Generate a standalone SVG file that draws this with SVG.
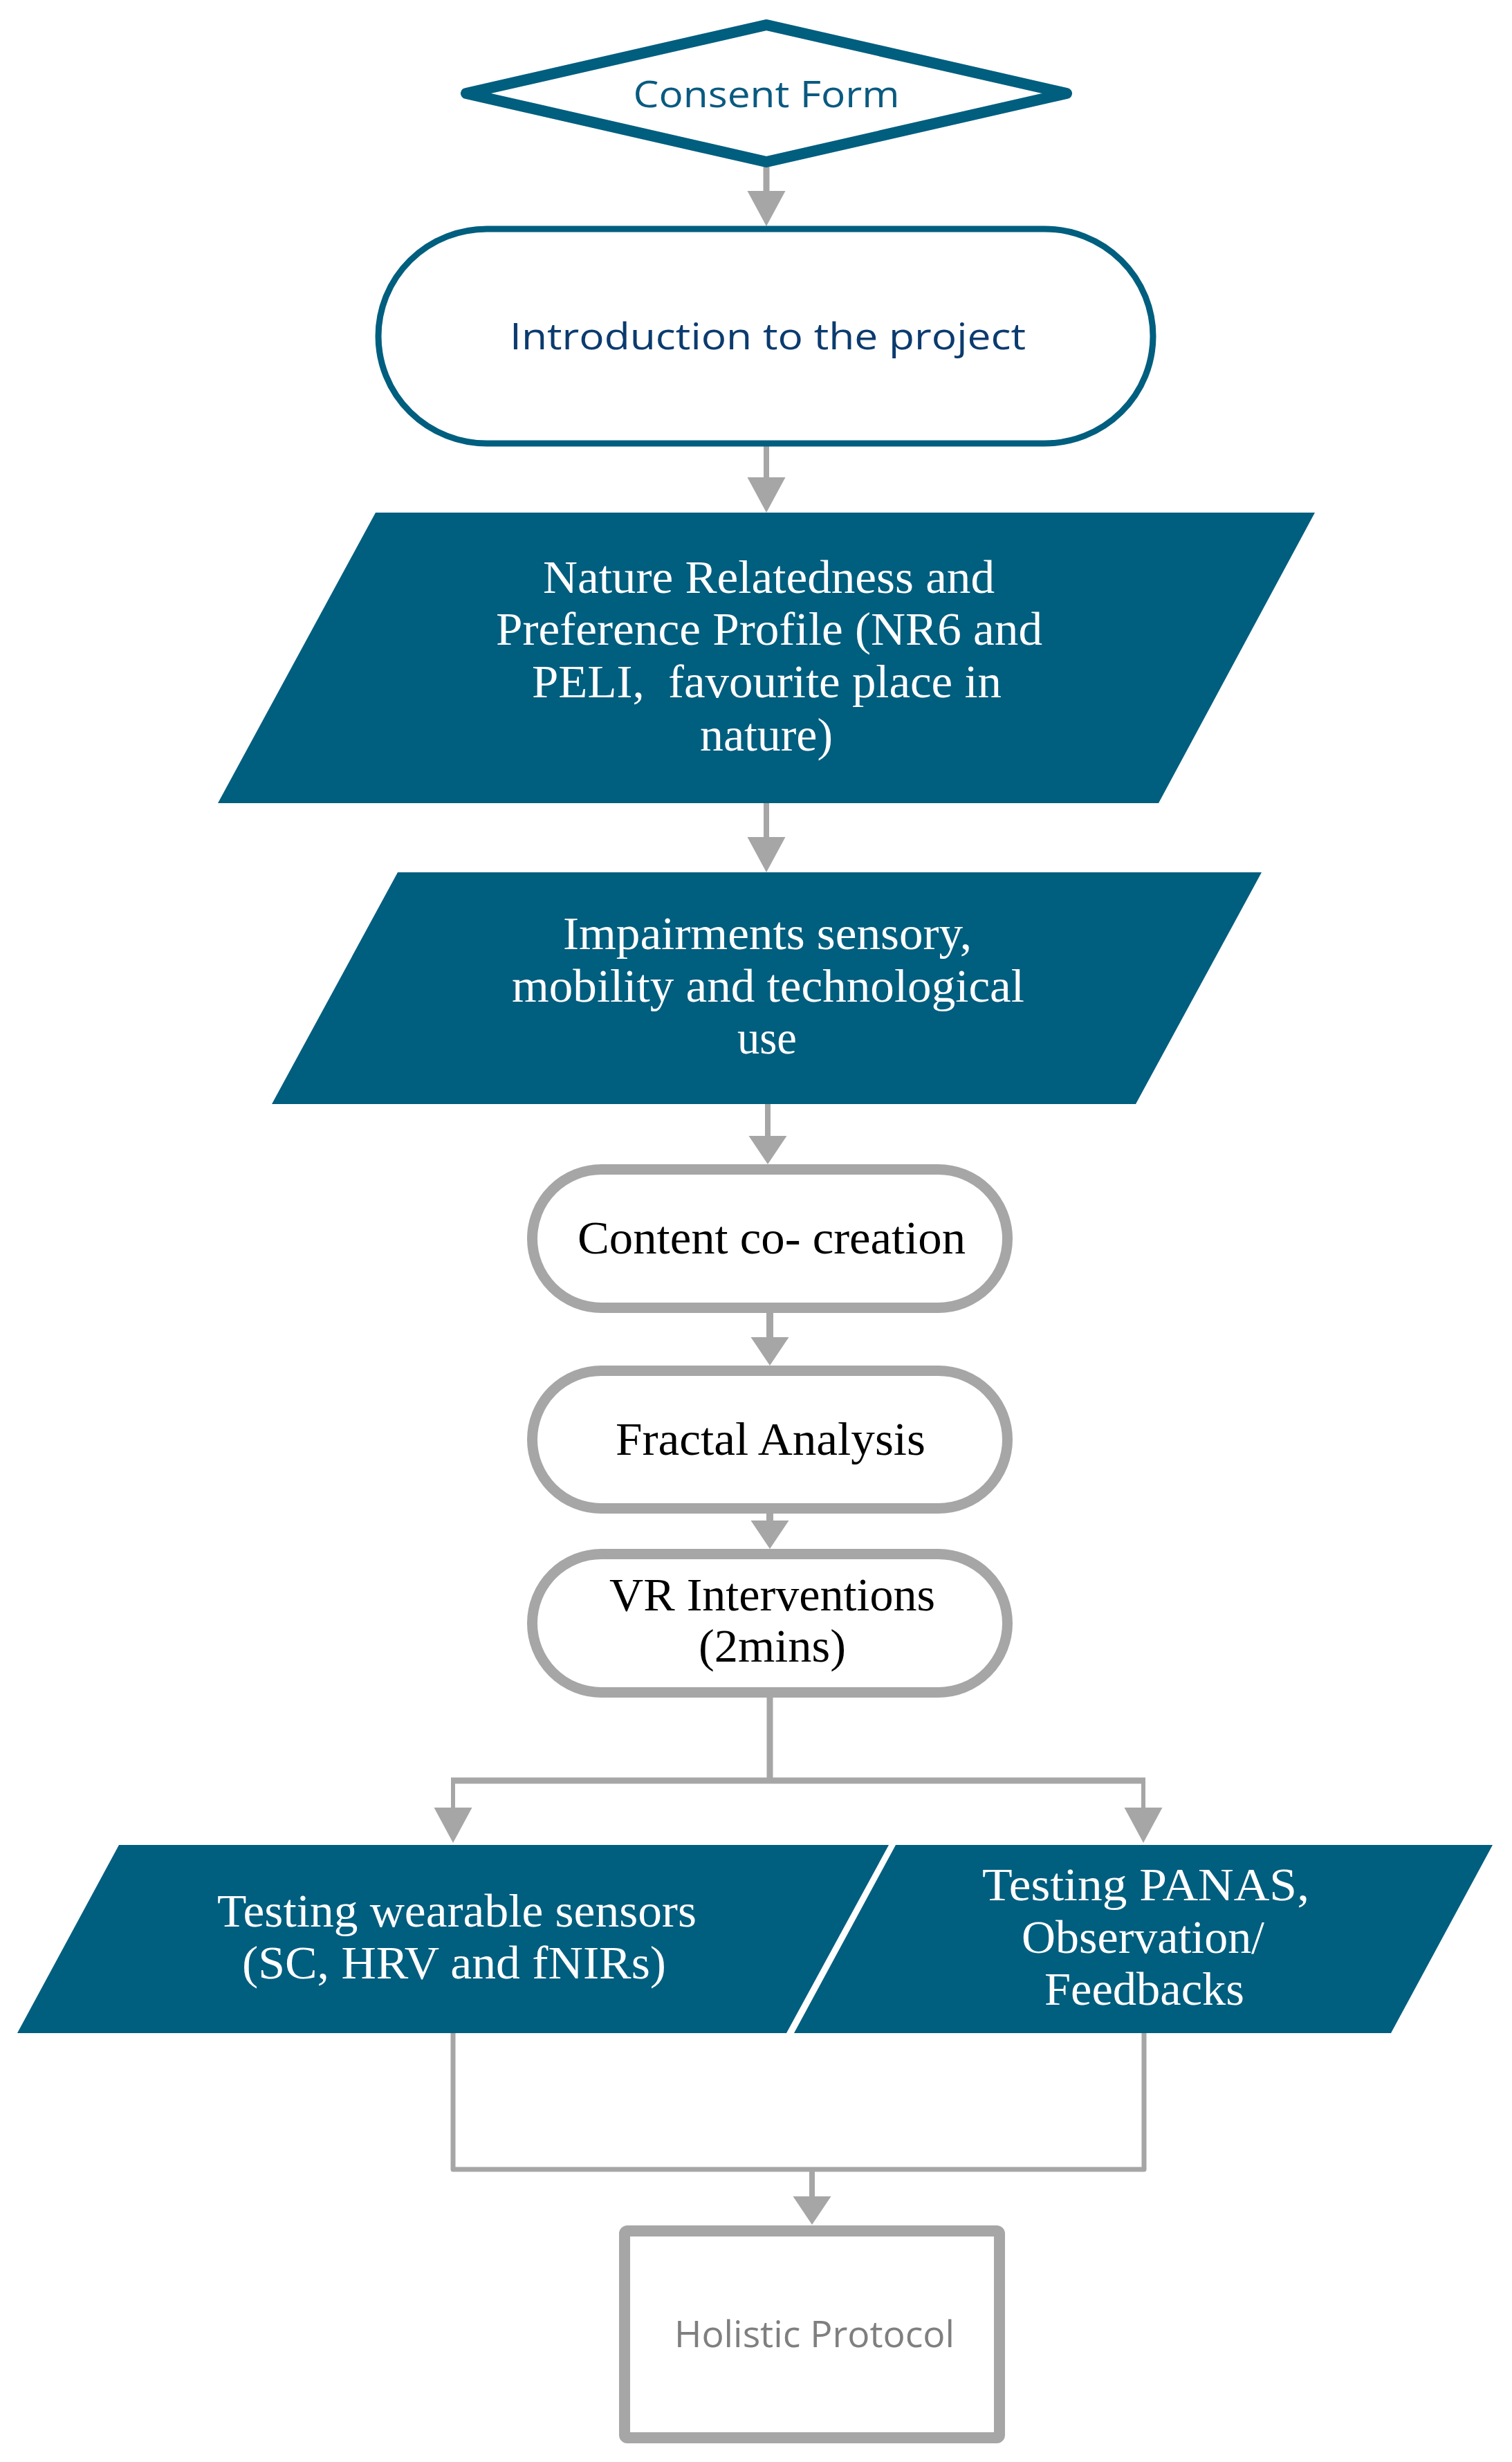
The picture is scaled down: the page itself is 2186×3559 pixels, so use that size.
<svg xmlns="http://www.w3.org/2000/svg" width="2186" height="3559" viewBox="0 0 2186 3559">
<style>
.blue{fill:#005e7f}
.bstroke{fill:#fff;stroke:#005e7f}
.gbox{fill:#fff;stroke:#a6a6a6;stroke-width:15}
.conn{fill:none;stroke:#a6a6a6;stroke-linecap:butt}
.sans{font-family:"Open Sans","Noto Sans",sans-serif;font-size:53px}
.serif{font-family:"Liberation Serif","Times New Roman",serif;font-size:68px;text-anchor:middle}
.w{fill:#fff}
.k{fill:#000}
</style>
<defs>
<marker id="arrL" markerUnits="userSpaceOnUse" orient="auto" markerWidth="52" markerHeight="56" refX="0" refY="28" viewBox="0 0 52 56"><path d="M0,0.5 L51,28 L0,55.5 z" fill="#a6a6a6"/></marker>
<marker id="arrS" markerUnits="userSpaceOnUse" orient="auto" markerWidth="42" markerHeight="56" refX="0" refY="28" viewBox="0 0 42 56"><path d="M0,0.5 L41,28 L0,55.5 z" fill="#a6a6a6"/></marker>
</defs>
<rect width="2186" height="3559" fill="#fff"/>

<g id="connectors">
<path class="conn" stroke-width="9" stroke-linecap="round" d="M1108,232 V276" marker-end="url(#arrL)"/>
<path class="conn" stroke-width="8" d="M1108,645 V690" marker-end="url(#arrL)"/>
<path class="conn" stroke-width="8" d="M1108,1161 V1210" marker-end="url(#arrL)"/>
<path class="conn" stroke-width="8" d="M1110,1596 V1642" marker-end="url(#arrS)"/>
<path class="conn" stroke-width="10" d="M1113,1898 V1933" marker-end="url(#arrS)"/>
<path class="conn" stroke-width="10" d="M1113,2188 V2198" marker-end="url(#arrS)"/>
<path class="conn" stroke-width="9" d="M1113,2454 V2574"/>
<path class="conn" stroke-width="9" d="M652,2574 H1656"/>
<path class="conn" stroke-width="6" d="M655,2574 V2613" marker-end="url(#arrL)"/>
<path class="conn" stroke-width="6" d="M1653,2574 V2613" marker-end="url(#arrL)"/>
<path class="conn" stroke-width="7" stroke-linejoin="round" d="M655,2939 V3136 H1654 V2939"/>
<path class="conn" stroke-width="8" d="M1174,3136 V3175" marker-end="url(#arrS)"/>
</g>

<g id="consent">
<polygon class="bstroke" stroke-width="16" stroke-linejoin="round" points="1108,36 1542,135 1108,234 674,135"/>
<text class="sans" x="1108" y="155" text-anchor="middle" fill="#0a5a80" textLength="385" lengthAdjust="spacingAndGlyphs">Consent Form</text>
</g>

<g id="intro">
<rect class="bstroke" stroke-width="9" x="547" y="331" width="1120" height="310" rx="157" ry="155"/>
<text class="sans" x="1110" y="505" text-anchor="middle" fill="#0b3b6f" textLength="746" lengthAdjust="spacingAndGlyphs">Introduction to the project</text>
</g>

<g id="nature">
<polygon class="blue" points="543,741 1901,741 1675,1161 315,1161"/>
<text class="serif w" x="1111.5" y="857" textLength="653" lengthAdjust="spacingAndGlyphs">Nature Relatedness and</text>
<text class="serif w" x="1112" y="932" textLength="790" lengthAdjust="spacingAndGlyphs">Preference Profile (NR6 and</text>
<text class="serif w" x="1108.5" y="1008" textLength="679" lengthAdjust="spacingAndGlyphs" xml:space="preserve">PELI,  favourite place in</text>
<text class="serif w" x="1108" y="1085" textLength="192" lengthAdjust="spacingAndGlyphs">nature)</text>
</g>

<g id="impairments">
<polygon class="blue" points="575,1261 1824,1261 1642,1596 393,1596"/>
<text class="serif w" x="1109.5" y="1372" textLength="591" lengthAdjust="spacingAndGlyphs">Impairments sensory,</text>
<text class="serif w" x="1110.5" y="1448" textLength="741" lengthAdjust="spacingAndGlyphs">mobility and technological</text>
<text class="serif w" x="1109" y="1523" textLength="86" lengthAdjust="spacingAndGlyphs">use</text>
</g>

<g id="content">
<rect class="gbox" x="769.5" y="1690.5" width="687" height="200" rx="100" ry="100"/>
<text class="serif k" x="1115.5" y="1812" textLength="561" lengthAdjust="spacingAndGlyphs">Content co- creation</text>
</g>

<g id="fractal">
<rect class="gbox" x="769.5" y="1981.5" width="687" height="199" rx="99.5" ry="99.5"/>
<text class="serif k" x="1114" y="2103" textLength="448" lengthAdjust="spacingAndGlyphs">Fractal Analysis</text>
</g>

<g id="vr">
<rect class="gbox" x="769.5" y="2246.5" width="687" height="200" rx="100" ry="100"/>
<text class="serif k" x="1116.5" y="2328" textLength="471" lengthAdjust="spacingAndGlyphs">VR Interventions</text>
<text class="serif k" x="1116.5" y="2402" textLength="213" lengthAdjust="spacingAndGlyphs">(2mins)</text>
</g>

<g id="sensors">
<polygon class="blue" points="172,2667 1285,2667 1137,2939 25,2939"/>
<text class="serif w" x="660.5" y="2785" textLength="693" lengthAdjust="spacingAndGlyphs">Testing wearable sensors</text>
<text class="serif w" x="656.5" y="2860" textLength="613" lengthAdjust="spacingAndGlyphs">(SC, HRV and fNIRs)</text>
</g>

<g id="panas">
<polygon class="blue" points="1295,2667 2158,2667 2011,2939 1148,2939"/>
<text class="serif w" x="1656.5" y="2747" textLength="473" lengthAdjust="spacingAndGlyphs">Testing PANAS,</text>
<text class="serif w" x="1652.5" y="2823" textLength="351" lengthAdjust="spacingAndGlyphs">Observation/</text>
<text class="serif w" x="1654.5" y="2898" textLength="289" lengthAdjust="spacingAndGlyphs">Feedbacks</text>
</g>

<g id="holistic">
<rect x="903" y="3225" width="542" height="299" rx="4" fill="#fff" stroke="#a6a6a6" stroke-width="16" stroke-linejoin="round"/>
<text class="sans" x="1177.5" y="3393" text-anchor="middle" fill="#7f7f7f" font-size="49" textLength="405" lengthAdjust="spacingAndGlyphs">Holistic Protocol</text>
</g>
</svg>
